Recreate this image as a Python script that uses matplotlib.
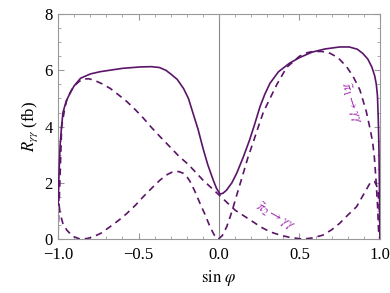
import matplotlib
matplotlib.use('Agg')
import matplotlib.pyplot as plt
from matplotlib.ticker import MultipleLocator

# total rate (solid)
x_tot = [-1.0, -0.995, -0.988, -0.98, -0.97, -0.95, -0.925, -0.9, -0.86, -0.8, -0.74, -0.6,
         -0.49, -0.42, -0.37, -0.33, -0.30, -0.26, -0.22, -0.19, -0.16, -0.13, -0.098, -0.07,
         -0.036, -0.015, 0.006, 0.025, 0.047, 0.08, 0.11, 0.15, 0.19, 0.22, 0.255, 0.285,
         0.317, 0.37, 0.44, 0.5, 0.58, 0.66, 0.75, 0.81, 0.86, 0.894, 0.925, 0.95,
         0.968, 0.978, 0.985, 0.99, 0.994, 0.998, 1.0]
y_tot = [1.2, 2.2, 3.3, 3.9, 4.5, 4.9, 5.2, 5.45, 5.72, 5.87, 5.95, 6.07,
         6.12, 6.13, 6.1, 6.0, 5.87, 5.68, 5.35, 5.0, 4.45, 3.9, 3.2, 2.65,
         2.1, 1.8, 1.6, 1.63, 1.74, 2.0, 2.34, 2.9, 3.52, 4.05, 4.71, 5.15,
         5.54, 5.95, 6.26, 6.45, 6.65, 6.76, 6.83, 6.83, 6.75, 6.6, 6.4, 6.12,
         5.8, 5.5, 5.1, 4.3, 3.3, 1.5, 0.1]

# pi1 -> gamma gamma (dashed)
x_p1 = [-1.0, -0.995, -0.988, -0.97, -0.946, -0.91, -0.863, -0.82, -0.781, -0.73, -0.677, -0.625,
        -0.573, -0.52, -0.47, -0.42, -0.366, -0.32, -0.284, -0.25, -0.222, -0.2, -0.18, -0.15,
        -0.118, -0.085, -0.056, -0.03, -0.004, 0.02, 0.048, 0.07, 0.089, 0.12, 0.151, 0.18,
        0.213, 0.245, 0.275, 0.317, 0.36, 0.42, 0.5, 0.55, 0.586, 0.64, 0.689, 0.74,
        0.793, 0.834, 0.876, 0.915, 0.94, 0.955, 0.966, 0.976, 0.986, 0.992, 1.0]
y_p1 = [2.0, 1.3, 0.91, 0.55, 0.32, 0.1, 0.0, 0.02, 0.08, 0.22, 0.44, 0.66,
        0.91, 1.2, 1.51, 1.8, 2.10, 2.3, 2.40, 2.40, 2.34, 2.22, 2.05, 1.7,
        1.27, 0.85, 0.44, 0.15, 0.0, 0.12, 0.44, 0.8, 1.15, 1.75, 2.34, 2.9,
        3.45, 4.0, 4.5, 5.0, 5.5, 6.1, 6.5, 6.63, 6.67, 6.67, 6.61, 6.45,
        6.13, 5.78, 5.3, 4.55, 3.9, 3.45, 2.9, 2.10, 1.15, 0.3, 0.0]

# pi2 -> gamma gamma (dashed)
x_p2 = [-1.0, -0.994, -0.988, -0.978, -0.96, -0.946, -0.925, -0.905, -0.87, -0.843, -0.81, -0.781,
        -0.73, -0.677, -0.625, -0.573, -0.52, -0.47, -0.42, -0.366, -0.30, -0.25, -0.19, -0.1,
        0.0, 0.1, 0.21, 0.26, 0.317, 0.38, 0.44, 0.52, 0.58, 0.645, 0.7, 0.75,
        0.8, 0.855, 0.9, 0.938, 0.955, 0.969, 0.98, 0.99, 0.995, 0.998, 1.0]
y_p2 = [0.2, 1.2, 2.22, 4.0, 4.6, 4.95, 5.2, 5.42, 5.6, 5.69, 5.7, 5.66,
        5.53, 5.36, 5.13, 4.89, 4.6, 4.30, 3.97, 3.64, 3.25, 2.95, 2.65, 2.10,
        1.57, 1.03, 0.62, 0.43, 0.26, 0.14, 0.06, 0.0, 0.04, 0.14, 0.33, 0.56,
        0.85, 1.15, 1.6, 1.98, 2.06, 2.04, 1.9, 1.63, 1.2, 0.56, 0.0]

purple = '#5a1468'
label_col = '#a22fb0'

plt.rcParams['font.family'] = ['Liberation Serif', 'DejaVu Serif']
plt.rcParams['mathtext.fontset'] = 'stix'

fig = plt.figure(figsize=(3.9, 2.93), dpi=100)
ax = fig.add_axes([0.149, 0.184, 0.825, 0.768])

ax.axvline(0, color='#888888', lw=0.8, zorder=1)
ax.plot(x_tot, y_tot, color=purple, lw=1.2, zorder=3)
ax.plot(x_p1, y_p1, color=purple, lw=1.2, ls=(0, (4, 3)), zorder=2)
ax.plot(x_p2, y_p2, color=purple, lw=1.2, ls=(0, (4, 3)), zorder=2)

ax.text(0.815, 4.85, r'$\tilde{\pi}_1\to\gamma\gamma$', color=label_col, fontsize=10,
        rotation=-72, ha='center', va='center')
ax.text(0.35, 0.8, r'$\tilde{\pi}_2\to\gamma\gamma$', color=label_col, fontsize=10,
        rotation=-30, ha='center', va='center')

ax.set_xlim(-1, 1)
ax.set_ylim(0, 8)
ax.xaxis.set_major_locator(MultipleLocator(0.5))
ax.xaxis.set_minor_locator(MultipleLocator(0.1))
ax.yaxis.set_major_locator(MultipleLocator(2))
ax.yaxis.set_minor_locator(MultipleLocator(0.5))
ax.set_xticks([-1, -0.5, 0, 0.5, 1])
ax.set_xticklabels(['\u22121.0', '\u22120.5', '0.0', '0.5', '1.0'])
ax.set_yticks([0, 2, 4, 6, 8])
ax.set_yticklabels(['0', '2', '4', '6', '8'])
ax.tick_params(which='both', direction='in', top=True, right=True, color='#999999',
               labelsize=12)
ax.tick_params(axis='x', pad=6)
ax.tick_params(axis='y', pad=4)
ax.tick_params(which='major', length=4)
ax.tick_params(which='minor', length=2)
for s in ax.spines.values():
    s.set_color('#999999')
    s.set_linewidth(0.8)

ax.set_xlabel(r'$\sin\,\varphi$', fontsize=12, labelpad=3)
ax.set_ylabel(r'$R_{\gamma\gamma}$ (fb)', fontsize=12, labelpad=3)

fig.savefig('out.png', dpi=100)
